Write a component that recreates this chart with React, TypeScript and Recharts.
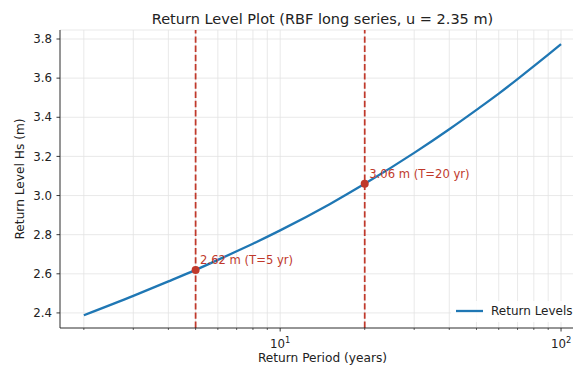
import React from 'react';
import { ComposedChart, Line, XAxis, YAxis, CartesianGrid, ReferenceLine, ReferenceDot } from 'recharts';

const FONT = "'DejaVu Sans', sans-serif";
const BLUE = '#1f77b4';
const RED = '#c0392b';
const INK = '#222';

// Return periods (years) and estimated return levels Hs (m)
const periods = [2, 3, 4, 5, 6, 7, 8, 10, 15, 20, 30, 40, 50, 60, 70, 80, 90, 100];
const levels = [2.388, 2.487, 2.561, 2.62, 2.671, 2.715, 2.754, 2.822, 2.956, 3.06, 3.218, 3.339, 3.438, 3.521, 3.595, 3.661, 3.72, 3.774];

// Highlighted design return periods
const markedPeriods = [5, 20];
const markedLevels = [2.62, 3.06];

const xTicks = [2, 3, 4, 5, 6, 7, 8, 9, 10, 20, 30, 40, 50, 60, 70, 80, 90, 100];
const xMajor = [10, 100];
const yTicks = [2.4, 2.6, 2.8, 3.0, 3.2, 3.4, 3.6, 3.8];

const seriesName = 'Return Levels';
const title = 'Return Level Plot (RBF long series, u = 2.35 m)';

const data = periods.map((T, i) => ({ T, Hs: levels[i] }));

const W = 600;
const H = 369;

const LogTick = (props: any) => {
    const { x, y, payload } = props;
    const v = payload.value;
    const major = xMajor.includes(v);
    return (
        <g>
            <line x1={x} x2={x} y1={y} y2={y + (major ? 3.5 : 2)} stroke={INK} strokeWidth={major ? 0.9 : 0.7} />
            {major && (
                <text x={x} y={y + 20} textAnchor="middle" fontFamily={FONT} fontSize={11.8} fill={INK}>
                    10<tspan dy={-5} fontSize={8.3}>{Math.round(Math.log10(v))}</tspan>
                </text>
            )}
        </g>
    );
};

const dotLabel = (T: number, Hs: number) => (p: any) => (
    <text
        x={p.viewBox.x + p.viewBox.width / 2 + 4.5}
        y={p.viewBox.y + p.viewBox.height / 2 - 6}
        fill={RED}
        fontSize={11.6}
        fontFamily={FONT}
    >
        {`${Hs.toFixed(2)} m (T=${T} yr)`}
    </text>
);

export default function App() {
    return (
        <div style={{ position: 'absolute', left: 0, top: 0, width: 573, height: H, overflow: 'hidden', background: '#fff' }}>
            <ComposedChart width={W} height={H} data={data} margin={{ top: 30, right: 15, bottom: 0, left: 0 }}>
                <CartesianGrid stroke="#e3e3e3" strokeWidth={0.8} />
                <XAxis
                    dataKey="T"
                    type="number"
                    scale="log"
                    domain={[1.645, 121.7]}
                    allowDataOverflow
                    ticks={xTicks}
                    interval={0}
                    height={41}
                    tickSize={0}
                    tickMargin={0}
                    tickLine={false}
                    tick={<LogTick />}
                    axisLine={{ stroke: INK, strokeWidth: 0.9 }}
                    label={{
                        value: 'Return Period (years)',
                        position: 'insideBottom',
                        offset: 7,
                        style: { fontFamily: FONT, fontSize: 12.2, fill: INK },
                    }}
                />
                <YAxis
                    type="number"
                    domain={[2.323, 3.846]}
                    allowDataOverflow
                    ticks={yTicks}
                    interval={0}
                    width={60}
                    tickSize={3.5}
                    tickMargin={4.5}
                    tickFormatter={(v: number) => v.toFixed(1)}
                    tick={{ fontFamily: FONT, fontSize: 11.8, fill: INK }}
                    tickLine={{ stroke: INK, strokeWidth: 0.9 }}
                    axisLine={{ stroke: INK, strokeWidth: 0.9 }}
                    label={{
                        value: 'Return Level Hs (m)',
                        angle: -90,
                        position: 'insideLeft',
                        offset: 20,
                        style: { textAnchor: 'middle', fontFamily: FONT, fontSize: 12.2, fill: INK },
                    }}
                />
                <Line
                    dataKey="Hs"
                    name={seriesName}
                    type="monotone"
                    stroke={BLUE}
                    strokeWidth={2.3}
                    dot={false}
                    activeDot={false}
                    isAnimationActive={false}
                />
                {markedPeriods.map(T => (
                    <ReferenceLine key={`l${T}`} x={T} stroke={RED} strokeWidth={1.75} strokeDasharray="6.4 2.8" />
                ))}
                {markedPeriods.map((T, i) => (
                    <ReferenceDot
                        key={`d${T}`}
                        x={T}
                        y={markedLevels[i]}
                        r={4}
                        fill={RED}
                        stroke="none"
                        label={dotLabel(T, markedLevels[i])}
                    />
                ))}
            </ComposedChart>
            <svg width={W} height={H} style={{ position: 'absolute', left: 0, top: 0, pointerEvents: 'none' }}>
                <text x={322.5} y={24} textAnchor="middle" fontFamily={FONT} fontSize={14.5} fill={INK}>
                    {title}
                </text>
                <rect x={451} y={301} width={140} height={21} fill="#fff" fillOpacity={0.85} />
                <line x1={456} x2={483} y1={311} y2={311} stroke={BLUE} strokeWidth={2.3} />
                <text x={491} y={315.3} fontFamily={FONT} fontSize={12} fill={INK}>
                    {seriesName}
                </text>
            </svg>
        </div>
    );
}
